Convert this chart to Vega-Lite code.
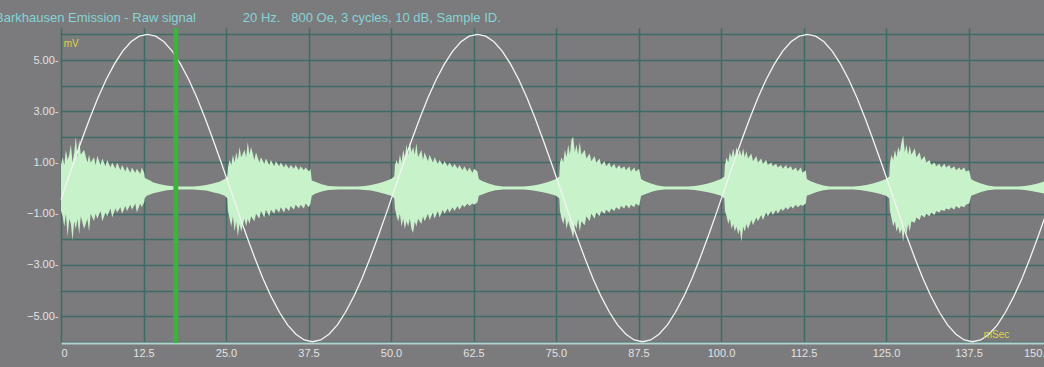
{
  "$schema": "https://vega.github.io/schema/vega-lite/v6.json",
  "width": 983,
  "height": 315,
  "autosize": {"type": "none"},
  "padding": {"left": 61, "top": 28, "right": 0, "bottom": 24},
  "background": "#7b7a7c",
  "config": {
    "view": {"stroke": null},
    "axis": {
      "labelFont": "Liberation Sans",
      "labelFontSize": 11,
      "labelColor": "#e2e2e2",
      "gridColor": "#3d6c67",
      "gridWidth": 1.5,
      "gridOpacity": 1,
      "ticks": false,
      "title": null
    }
  },
  "title": {
    "text": "Barkhausen Emission - Raw signal\u00a0\u00a0\u00a0\u00a0\u00a0\u00a0\u00a0\u00a0\u00a0\u00a0\u00a0\u00a0\u00a020 Hz.\u00a0\u00a0\u00a0800 Oe, 3 cycles, 10 dB, Sample ID.",
    "color": "#86d4d6",
    "font": "Liberation Sans",
    "fontSize": 13,
    "fontWeight": "normal",
    "anchor": "start",
    "frame": "group",
    "baseline": "alphabetic",
    "offset": 6,
    "dx": -66,
    "dy": 15
  },
  "datasets": {
    "noise": [
      {"t":0.0,"hi":0.9,"lo":-0.9},{"t":0.25,"hi":1.2,"lo":-1.1},{"t":0.5,"hi":0.9,"lo":-1.5},{"t":0.75,"hi":1.5,"lo":-1.0},{"t":1.0,"hi":1.1,"lo":-1.9},{"t":1.25,"hi":1.3,"lo":-1.2},{"t":1.5,"hi":1.7,"lo":-1.4},{"t":1.75,"hi":1.0,"lo":-2.05},{"t":2.0,"hi":1.4,"lo":-1.3},{"t":2.25,"hi":2.0,"lo":-1.6},{"t":2.5,"hi":1.2,"lo":-1.2},{"t":2.75,"hi":1.9,"lo":-1.8},{"t":3.0,"hi":1.3,"lo":-1.1},{"t":3.5,"hi":1.5,"lo":-1.6},{"t":4.0,"hi":1.0,"lo":-1.2},{"t":4.25,"hi":1.3,"lo":-1.7},{"t":4.5,"hi":1.0,"lo":-1.0},{"t":5.0,"hi":1.2,"lo":-1.3},{"t":5.25,"hi":0.9,"lo":-1.0},{"t":5.5,"hi":1.25,"lo":-1.2},{"t":6.0,"hi":0.9,"lo":-0.9},{"t":6.25,"hi":1.15,"lo":-1.3},{"t":6.75,"hi":0.85,"lo":-0.95},{"t":7.0,"hi":1.1,"lo":-1.1},{"t":7.5,"hi":0.8,"lo":-0.8},{"t":7.75,"hi":1.0,"lo":-1.15},{"t":8.25,"hi":0.75,"lo":-0.8},{"t":8.5,"hi":1.0,"lo":-0.95},{"t":9.0,"hi":0.7,"lo":-0.75},{"t":9.25,"hi":0.9,"lo":-1.0},{"t":9.75,"hi":0.65,"lo":-0.7},{"t":10.0,"hi":0.85,"lo":-0.9},{"t":10.5,"hi":0.6,"lo":-0.65},{"t":10.75,"hi":0.8,"lo":-0.85},{"t":11.25,"hi":0.6,"lo":-0.6},{"t":11.5,"hi":0.75,"lo":-0.95},{"t":12.0,"hi":0.55,"lo":-0.6},{"t":12.25,"hi":0.8,"lo":-0.75},{"t":12.6,"hi":0.6,"lo":-0.55},
      {"t":12.7,"hi":0.4,"lo":-0.4},{"t":13.0,"hi":0.35,"lo":-0.3},{"t":13.5,"hi":0.3,"lo":-0.25},{"t":14.0,"hi":0.22,"lo":-0.2},{"t":15.0,"hi":0.15,"lo":-0.14},{"t":16.0,"hi":0.1,"lo":-0.09},{"t":17.0,"hi":0.07,"lo":-0.07},{"t":18.0,"hi":0.06,"lo":-0.06},{"t":20.0,"hi":0.06,"lo":-0.06},{"t":21.0,"hi":0.08,"lo":-0.08},{"t":22.0,"hi":0.12,"lo":-0.1},{"t":23.0,"hi":0.18,"lo":-0.16},{"t":24.0,"hi":0.25,"lo":-0.22},{"t":24.8,"hi":0.35,"lo":-0.3},{"t":25.2,"hi":0.45,"lo":-0.4},
      {"t":25.3,"hi":0.8,"lo":-0.9},{"t":25.55,"hi":1.1,"lo":-1.2},{"t":25.8,"hi":0.9,"lo":-1.5},{"t":26.05,"hi":1.3,"lo":-1.1},{"t":26.3,"hi":1.0,"lo":-1.7},{"t":26.55,"hi":1.4,"lo":-1.3},{"t":26.8,"hi":1.1,"lo":-1.9},{"t":27.05,"hi":1.6,"lo":-1.4},{"t":27.3,"hi":1.2,"lo":-1.7},{"t":27.8,"hi":1.5,"lo":-1.2},{"t":28.05,"hi":1.2,"lo":-1.5},{"t":28.3,"hi":1.8,"lo":-1.2},{"t":28.55,"hi":1.3,"lo":-1.4},{"t":28.8,"hi":1.6,"lo":-1.1},{"t":29.3,"hi":1.1,"lo":-1.3},{"t":29.55,"hi":1.4,"lo":-1.0},{"t":30.05,"hi":1.0,"lo":-1.2},{"t":30.3,"hi":1.2,"lo":-0.9},{"t":30.8,"hi":0.95,"lo":-1.15},{"t":31.05,"hi":1.15,"lo":-0.85},{"t":31.55,"hi":0.9,"lo":-1.1},{"t":31.8,"hi":1.1,"lo":-0.85},{"t":32.3,"hi":0.85,"lo":-1.0},{"t":32.55,"hi":1.05,"lo":-0.8},{"t":33.05,"hi":0.85,"lo":-0.95},{"t":33.3,"hi":1.0,"lo":-0.75},{"t":33.8,"hi":0.8,"lo":-0.95},{"t":34.05,"hi":0.95,"lo":-0.75},{"t":34.55,"hi":0.75,"lo":-0.9},{"t":34.8,"hi":0.9,"lo":-0.7},{"t":35.3,"hi":0.75,"lo":-0.85},{"t":35.55,"hi":0.9,"lo":-0.65},{"t":36.05,"hi":0.7,"lo":-0.8},{"t":36.3,"hi":0.85,"lo":-0.65},{"t":36.8,"hi":0.7,"lo":-0.8},{"t":37.05,"hi":0.8,"lo":-0.6},{"t":37.55,"hi":0.65,"lo":-0.75},{"t":37.8,"hi":0.75,"lo":-0.6},
      {"t":38.0,"hi":0.3,"lo":-0.3},{"t":38.5,"hi":0.25,"lo":-0.22},{"t":39.5,"hi":0.15,"lo":-0.13},{"t":40.5,"hi":0.08,"lo":-0.08},{"t":42.0,"hi":0.06,"lo":-0.06},{"t":45.0,"hi":0.06,"lo":-0.06},{"t":46.0,"hi":0.08,"lo":-0.08},{"t":47.0,"hi":0.12,"lo":-0.1},{"t":48.0,"hi":0.18,"lo":-0.15},{"t":49.0,"hi":0.26,"lo":-0.22},{"t":50.0,"hi":0.35,"lo":-0.3},{"t":50.5,"hi":0.45,"lo":-0.4},
      {"t":50.6,"hi":0.9,"lo":-0.8},{"t":50.85,"hi":1.1,"lo":-1.1},{"t":51.1,"hi":0.9,"lo":-1.3},{"t":51.35,"hi":1.3,"lo":-1.0},{"t":51.6,"hi":1.0,"lo":-1.5},{"t":51.85,"hi":1.5,"lo":-1.2},{"t":52.1,"hi":1.2,"lo":-1.6},{"t":52.35,"hi":1.7,"lo":-1.3},{"t":52.6,"hi":1.3,"lo":-1.5},{"t":52.85,"hi":1.8,"lo":-1.2},{"t":53.1,"hi":1.4,"lo":-1.6},{"t":53.35,"hi":1.6,"lo":-1.75},{"t":53.6,"hi":1.3,"lo":-1.3},{"t":53.85,"hi":1.75,"lo":-1.5},{"t":54.1,"hi":1.2,"lo":-1.2},{"t":54.6,"hi":1.5,"lo":-1.4},{"t":54.85,"hi":1.1,"lo":-1.1},{"t":55.1,"hi":1.4,"lo":-1.3},{"t":55.6,"hi":1.05,"lo":-1.0},{"t":55.85,"hi":1.3,"lo":-1.25},{"t":56.35,"hi":1.0,"lo":-0.95},{"t":56.6,"hi":1.2,"lo":-1.2},{"t":57.1,"hi":0.95,"lo":-0.9},{"t":57.35,"hi":1.1,"lo":-1.15},{"t":57.85,"hi":0.9,"lo":-0.85},{"t":58.1,"hi":1.05,"lo":-1.0},{"t":58.6,"hi":0.85,"lo":-0.8},{"t":58.85,"hi":1.0,"lo":-0.95},{"t":59.35,"hi":0.8,"lo":-0.75},{"t":59.6,"hi":0.95,"lo":-0.9},{"t":60.1,"hi":0.75,"lo":-0.7},{"t":60.35,"hi":0.9,"lo":-0.85},{"t":60.85,"hi":0.7,"lo":-0.65},{"t":61.1,"hi":0.85,"lo":-0.75},{"t":61.6,"hi":0.65,"lo":-0.6},{"t":61.85,"hi":0.8,"lo":-0.7},{"t":62.35,"hi":0.6,"lo":-0.6},{"t":62.6,"hi":0.75,"lo":-0.65},{"t":63.1,"hi":0.65,"lo":-0.55},
      {"t":63.3,"hi":0.35,"lo":-0.3},{"t":63.8,"hi":0.28,"lo":-0.25},{"t":64.8,"hi":0.18,"lo":-0.15},{"t":65.8,"hi":0.1,"lo":-0.09},{"t":67.0,"hi":0.06,"lo":-0.06},{"t":70.0,"hi":0.06,"lo":-0.06},{"t":71.0,"hi":0.08,"lo":-0.08},{"t":72.0,"hi":0.12,"lo":-0.11},{"t":73.0,"hi":0.18,"lo":-0.16},{"t":74.0,"hi":0.26,"lo":-0.22},{"t":75.0,"hi":0.35,"lo":-0.3},{"t":75.5,"hi":0.45,"lo":-0.4},
      {"t":75.6,"hi":1.0,"lo":-0.9},{"t":75.85,"hi":1.2,"lo":-1.2},{"t":76.1,"hi":1.0,"lo":-1.4},{"t":76.35,"hi":1.5,"lo":-1.1},{"t":76.6,"hi":1.2,"lo":-1.6},{"t":76.85,"hi":1.7,"lo":-1.3},{"t":77.1,"hi":1.3,"lo":-1.5},{"t":77.35,"hi":1.9,"lo":-1.7},{"t":77.6,"hi":2.0,"lo":-1.95},{"t":77.85,"hi":1.4,"lo":-1.4},{"t":78.1,"hi":1.7,"lo":-1.6},{"t":78.35,"hi":1.3,"lo":-1.2},{"t":78.6,"hi":1.8,"lo":-1.7},{"t":78.85,"hi":1.3,"lo":-1.3},{"t":79.35,"hi":1.5,"lo":-1.45},{"t":79.6,"hi":1.15,"lo":-1.1},{"t":80.1,"hi":1.35,"lo":-1.3},{"t":80.35,"hi":1.05,"lo":-1.0},{"t":80.85,"hi":1.25,"lo":-1.2},{"t":81.1,"hi":1.0,"lo":-0.95},{"t":81.6,"hi":1.15,"lo":-1.1},{"t":81.85,"hi":0.9,"lo":-0.9},{"t":82.35,"hi":1.05,"lo":-1.0},{"t":82.6,"hi":0.85,"lo":-0.85},{"t":83.1,"hi":1.0,"lo":-0.95},{"t":83.35,"hi":0.8,"lo":-0.8},{"t":83.85,"hi":0.95,"lo":-0.9},{"t":84.1,"hi":0.75,"lo":-0.75},{"t":84.6,"hi":0.9,"lo":-0.85},{"t":84.85,"hi":0.75,"lo":-0.7},{"t":85.35,"hi":0.85,"lo":-0.8},{"t":85.6,"hi":0.7,"lo":-0.65},{"t":86.1,"hi":0.85,"lo":-0.8},{"t":86.35,"hi":0.65,"lo":-0.65},{"t":86.85,"hi":0.8,"lo":-0.75},{"t":87.1,"hi":0.65,"lo":-0.6},{"t":87.6,"hi":0.75,"lo":-0.7},
      {"t":87.9,"hi":0.35,"lo":-0.3},{"t":88.4,"hi":0.28,"lo":-0.25},{"t":89.4,"hi":0.18,"lo":-0.15},{"t":90.4,"hi":0.1,"lo":-0.09},{"t":91.5,"hi":0.06,"lo":-0.06},{"t":95.0,"hi":0.06,"lo":-0.06},{"t":96.0,"hi":0.08,"lo":-0.08},{"t":97.0,"hi":0.12,"lo":-0.11},{"t":98.0,"hi":0.18,"lo":-0.16},{"t":99.0,"hi":0.26,"lo":-0.22},{"t":100.0,"hi":0.35,"lo":-0.3},{"t":100.5,"hi":0.45,"lo":-0.4},
      {"t":100.6,"hi":0.9,"lo":-0.9},{"t":100.85,"hi":1.2,"lo":-1.1},{"t":101.1,"hi":1.0,"lo":-1.4},{"t":101.35,"hi":1.4,"lo":-1.2},{"t":101.6,"hi":1.2,"lo":-1.6},{"t":101.85,"hi":1.55,"lo":-1.4},{"t":102.1,"hi":1.2,"lo":-1.7},{"t":102.35,"hi":1.6,"lo":-1.5},{"t":102.6,"hi":1.3,"lo":-1.8},{"t":102.85,"hi":1.5,"lo":-1.6},{"t":103.1,"hi":1.25,"lo":-2.1},{"t":103.35,"hi":1.55,"lo":-1.5},{"t":103.6,"hi":1.2,"lo":-1.7},{"t":103.85,"hi":1.45,"lo":-1.4},{"t":104.1,"hi":1.15,"lo":-1.6},{"t":104.6,"hi":1.35,"lo":-1.25},{"t":104.85,"hi":1.05,"lo":-1.45},{"t":105.35,"hi":1.25,"lo":-1.15},{"t":105.6,"hi":1.0,"lo":-1.3},{"t":106.1,"hi":1.15,"lo":-1.05},{"t":106.35,"hi":0.95,"lo":-1.25},{"t":106.85,"hi":1.1,"lo":-0.95},{"t":107.1,"hi":0.9,"lo":-1.1},{"t":107.6,"hi":1.0,"lo":-0.9},{"t":107.85,"hi":0.85,"lo":-1.05},{"t":108.35,"hi":0.95,"lo":-0.85},{"t":108.6,"hi":0.8,"lo":-1.0},{"t":109.1,"hi":0.9,"lo":-0.8},{"t":109.35,"hi":0.75,"lo":-0.9},{"t":109.85,"hi":0.9,"lo":-0.75},{"t":110.1,"hi":0.75,"lo":-0.85},{"t":110.6,"hi":0.85,"lo":-0.7},{"t":110.85,"hi":0.7,"lo":-0.8},{"t":111.35,"hi":0.8,"lo":-0.65},{"t":111.6,"hi":0.65,"lo":-0.75},{"t":112.1,"hi":0.8,"lo":-0.65},{"t":112.35,"hi":0.6,"lo":-0.7},{"t":112.85,"hi":0.7,"lo":-0.6},
      {"t":113.0,"hi":0.35,"lo":-0.3},{"t":113.5,"hi":0.28,"lo":-0.25},{"t":114.5,"hi":0.18,"lo":-0.15},{"t":115.5,"hi":0.1,"lo":-0.09},{"t":116.5,"hi":0.06,"lo":-0.06},{"t":120.0,"hi":0.06,"lo":-0.06},{"t":121.0,"hi":0.08,"lo":-0.08},{"t":122.0,"hi":0.12,"lo":-0.11},{"t":123.0,"hi":0.18,"lo":-0.16},{"t":124.0,"hi":0.26,"lo":-0.22},{"t":125.0,"hi":0.35,"lo":-0.3},{"t":125.5,"hi":0.45,"lo":-0.4},
      {"t":125.6,"hi":1.0,"lo":-0.9},{"t":125.85,"hi":1.3,"lo":-1.2},{"t":126.1,"hi":1.1,"lo":-1.5},{"t":126.35,"hi":1.5,"lo":-1.3},{"t":126.6,"hi":1.2,"lo":-1.7},{"t":126.85,"hi":1.6,"lo":-1.5},{"t":127.1,"hi":1.4,"lo":-1.8},{"t":127.35,"hi":1.8,"lo":-1.6},{"t":127.6,"hi":2.05,"lo":-2.1},{"t":127.85,"hi":1.4,"lo":-1.5},{"t":128.1,"hi":1.7,"lo":-1.8},{"t":128.35,"hi":1.3,"lo":-1.4},{"t":128.6,"hi":1.65,"lo":-1.7},{"t":128.85,"hi":1.3,"lo":-1.3},{"t":129.35,"hi":1.55,"lo":-1.35},{"t":129.6,"hi":1.2,"lo":-1.15},{"t":130.1,"hi":1.4,"lo":-1.25},{"t":130.35,"hi":1.1,"lo":-1.05},{"t":130.85,"hi":1.25,"lo":-1.15},{"t":131.1,"hi":1.0,"lo":-1.0},{"t":131.6,"hi":1.1,"lo":-1.1},{"t":131.85,"hi":0.9,"lo":-0.95},{"t":132.35,"hi":1.0,"lo":-1.05},{"t":132.6,"hi":0.85,"lo":-0.9},{"t":133.1,"hi":0.95,"lo":-0.95},{"t":133.35,"hi":0.8,"lo":-0.85},{"t":133.85,"hi":0.95,"lo":-0.9},{"t":134.1,"hi":0.8,"lo":-0.8},{"t":134.6,"hi":0.9,"lo":-0.85},{"t":134.85,"hi":0.75,"lo":-0.75},{"t":135.35,"hi":0.85,"lo":-0.85},{"t":135.6,"hi":0.7,"lo":-0.7},{"t":136.1,"hi":0.8,"lo":-0.8},{"t":136.35,"hi":0.7,"lo":-0.7},{"t":136.85,"hi":0.8,"lo":-0.75},{"t":137.1,"hi":0.65,"lo":-0.65},{"t":137.6,"hi":0.7,"lo":-0.6},
      {"t":137.9,"hi":0.35,"lo":-0.3},{"t":138.4,"hi":0.28,"lo":-0.25},{"t":139.4,"hi":0.18,"lo":-0.15},{"t":140.4,"hi":0.1,"lo":-0.09},{"t":141.5,"hi":0.06,"lo":-0.06},{"t":145.0,"hi":0.06,"lo":-0.06},{"t":146.0,"hi":0.08,"lo":-0.08},{"t":147.0,"hi":0.12,"lo":-0.11},{"t":148.0,"hi":0.18,"lo":-0.16},{"t":149.0,"hi":0.26,"lo":-0.22},{"t":150.0,"hi":0.35,"lo":-0.3}
    ],
    "wave": [
      {"t":0,"v":-0.45},{"t":0.6,"v":0},{"t":1.85,"v":0.94},{"t":3.1,"v":1.85},{"t":4.35,"v":2.72},{"t":5.6,"v":3.53},{"t":6.85,"v":4.24},{"t":8.1,"v":4.85},{"t":9.35,"v":5.35},{"t":10.6,"v":5.71},{"t":11.85,"v":5.93},{"t":13.1,"v":6.0},{"t":14.35,"v":5.93},{"t":15.6,"v":5.71},{"t":16.85,"v":5.35},{"t":18.1,"v":4.85},{"t":19.35,"v":4.24},{"t":20.6,"v":3.53},{"t":21.85,"v":2.72},{"t":23.1,"v":1.85},{"t":24.35,"v":0.94},{"t":25.6,"v":0},{"t":26.85,"v":-0.94},{"t":28.1,"v":-1.85},{"t":29.35,"v":-2.72},{"t":30.6,"v":-3.53},{"t":31.85,"v":-4.24},{"t":33.1,"v":-4.85},{"t":34.35,"v":-5.35},{"t":35.6,"v":-5.71},{"t":36.85,"v":-5.93},{"t":38.1,"v":-6.0},{"t":39.35,"v":-5.93},{"t":40.6,"v":-5.71},{"t":41.85,"v":-5.35},{"t":43.1,"v":-4.85},{"t":44.35,"v":-4.24},{"t":45.6,"v":-3.53},{"t":46.85,"v":-2.72},{"t":48.1,"v":-1.85},{"t":49.35,"v":-0.94},{"t":50.6,"v":0},
      {"t":51.85,"v":0.94},{"t":53.1,"v":1.85},{"t":54.35,"v":2.72},{"t":55.6,"v":3.53},{"t":56.85,"v":4.24},{"t":58.1,"v":4.85},{"t":59.35,"v":5.35},{"t":60.6,"v":5.71},{"t":61.85,"v":5.93},{"t":63.1,"v":6.0},{"t":64.35,"v":5.93},{"t":65.6,"v":5.71},{"t":66.85,"v":5.35},{"t":68.1,"v":4.85},{"t":69.35,"v":4.24},{"t":70.6,"v":3.53},{"t":71.85,"v":2.72},{"t":73.1,"v":1.85},{"t":74.35,"v":0.94},{"t":75.6,"v":0},{"t":76.85,"v":-0.94},{"t":78.1,"v":-1.85},{"t":79.35,"v":-2.72},{"t":80.6,"v":-3.53},{"t":81.85,"v":-4.24},{"t":83.1,"v":-4.85},{"t":84.35,"v":-5.35},{"t":85.6,"v":-5.71},{"t":86.85,"v":-5.93},{"t":88.1,"v":-6.0},{"t":89.35,"v":-5.93},{"t":90.6,"v":-5.71},{"t":91.85,"v":-5.35},{"t":93.1,"v":-4.85},{"t":94.35,"v":-4.24},{"t":95.6,"v":-3.53},{"t":96.85,"v":-2.72},{"t":98.1,"v":-1.85},{"t":99.35,"v":-0.94},{"t":100.6,"v":0},
      {"t":101.85,"v":0.94},{"t":103.1,"v":1.85},{"t":104.35,"v":2.72},{"t":105.6,"v":3.53},{"t":106.85,"v":4.24},{"t":108.1,"v":4.85},{"t":109.35,"v":5.35},{"t":110.6,"v":5.71},{"t":111.85,"v":5.93},{"t":113.1,"v":6.0},{"t":114.35,"v":5.93},{"t":115.6,"v":5.71},{"t":116.85,"v":5.35},{"t":118.1,"v":4.85},{"t":119.35,"v":4.24},{"t":120.6,"v":3.53},{"t":121.85,"v":2.72},{"t":123.1,"v":1.85},{"t":124.35,"v":0.94},{"t":125.6,"v":0},{"t":126.85,"v":-0.94},{"t":128.1,"v":-1.85},{"t":129.35,"v":-2.72},{"t":130.6,"v":-3.53},{"t":131.85,"v":-4.24},{"t":133.1,"v":-4.85},{"t":134.35,"v":-5.35},{"t":135.6,"v":-5.71},{"t":136.85,"v":-5.93},{"t":138.1,"v":-6.0},{"t":139.35,"v":-5.93},{"t":140.6,"v":-5.71},{"t":141.85,"v":-5.35},{"t":143.1,"v":-4.85},{"t":144.35,"v":-4.24},{"t":145.6,"v":-3.53},{"t":146.85,"v":-2.72},{"t":148.1,"v":-1.85},{"t":149.35,"v":-0.94},{"t":150.6,"v":0}
    ],
    "cursor": [{"t": 17.4}],
    "units": [
      {"t": 0.4, "v": 5.62, "label": "mV"},
      {"t": 139.8, "v": -5.72, "label": "mSec"}
    ]
  },
  "layer": [
    {
      "data": {"name": "noise"},
      "mark": {"type": "area", "color": "#c8f2ca", "interpolate": "linear", "opacity": 1},
      "encoding": {
        "x": {
          "field": "t", "type": "quantitative",
          "scale": {"domain": [0, 150], "range": [0, 990], "nice": false, "zero": false},
          "axis": {
            "values": [0, 12.5, 25, 37.5, 50, 62.5, 75, 87.5, 100, 112.5, 125, 137.5, 150],
            "labelExpr": "datum.value == 0 ? '0' : format(datum.value, '.1f')",
            "labelFlush": true,
            "labelPadding": 4,
            "domain": true,
            "domainColor": "#b4cfcc",
            "domainWidth": 2,
            "grid": true
          }
        },
        "y": {
          "field": "hi", "type": "quantitative",
          "scale": {"domain": [-6.05, 6.25], "nice": false, "zero": false},
          "axis": {
            "orient": "left",
            "values": [-6, -5, -4, -3, -2, -1, 0, 1, 2, 3, 4, 5, 6],
            "labelExpr": "(datum.value == 5 || datum.value == 3 || datum.value == 1 || datum.value == -1 || datum.value == -3 || datum.value == -5) ? format(datum.value, '.2f') + '-' : ''",
            "labels": true,
            "labelColor": "#e2e2e2",
            "labelPadding": 3,
            "labelOverlap": false,
            "labelFlush": false,
            "domain": false,
            "grid": true
          }
        },
        "y2": {"field": "lo"}
      }
    },
    {
      "data": {"name": "wave"},
      "mark": {"type": "line", "color": "#f4f4f4", "strokeWidth": 1.3},
      "encoding": {
        "x": {"field": "t", "type": "quantitative"},
        "y": {
          "field": "v", "type": "quantitative",
          "axis": {
            "orient": "left",
            "values": [-6, -5, -4, -3, -2, -1, 0, 1, 2, 3, 4, 5, 6],
            "labelExpr": "(datum.value == 5 || datum.value == 3 || datum.value == 1 || datum.value == -1 || datum.value == -3 || datum.value == -5) ? format(datum.value, '.2f') + '-' : ''",
            "labels": true,
            "labelColor": "#e2e2e2",
            "labelPadding": 3,
            "labelOverlap": false,
            "labelFlush": false,
            "domain": false,
            "grid": true
          }
        }
      }
    },
    {
      "data": {"name": "cursor"},
      "mark": {"type": "rule", "color": "#3fb13f", "strokeWidth": 5},
      "encoding": {
        "x": {"field": "t", "type": "quantitative"}
      }
    },
    {
      "data": {"name": "units"},
      "mark": {"type": "text", "color": "#dcd445", "fontSize": 10, "font": "Liberation Sans", "align": "left", "baseline": "middle"},
      "encoding": {
        "x": {"field": "t", "type": "quantitative"},
        "y": {
          "field": "v", "type": "quantitative",
          "axis": {
            "orient": "left",
            "values": [-6, -5, -4, -3, -2, -1, 0, 1, 2, 3, 4, 5, 6],
            "labelExpr": "(datum.value == 5 || datum.value == 3 || datum.value == 1 || datum.value == -1 || datum.value == -3 || datum.value == -5) ? format(datum.value, '.2f') + '-' : ''",
            "labels": true,
            "labelColor": "#e2e2e2",
            "labelPadding": 3,
            "labelOverlap": false,
            "labelFlush": false,
            "domain": false,
            "grid": true
          }
        },
        "text": {"field": "label"}
      }
    }
  ]
}
